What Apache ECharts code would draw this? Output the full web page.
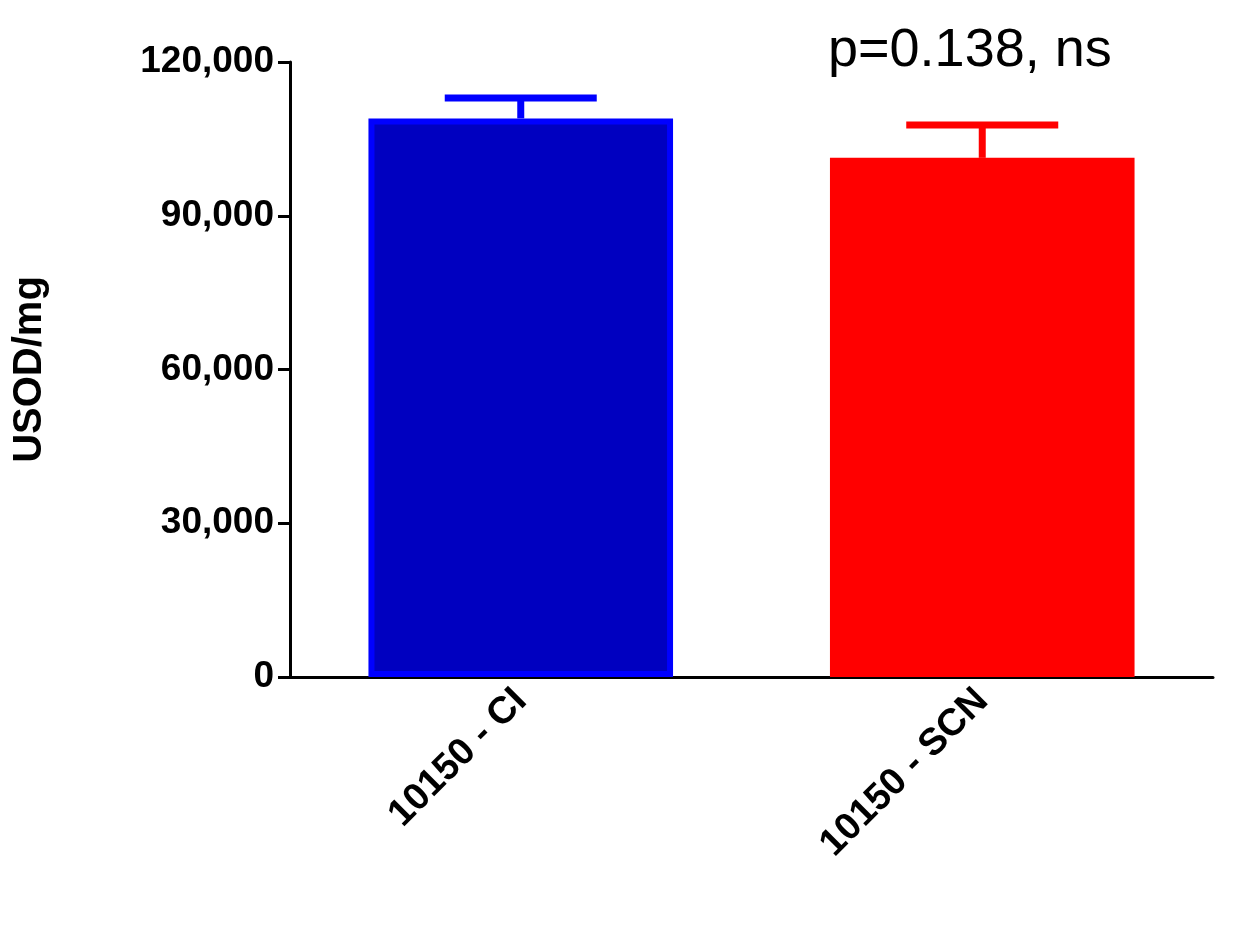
<!DOCTYPE html>
<html>
<head>
<meta charset="utf-8">
<script src="https://cdn.jsdelivr.net/npm/echarts@6/dist/echarts.min.js"></script>
<style>html,body{margin:0;background:#fff}#chart{width:1239px;height:935px}</style>
</head>
<body>
<div id="chart"></div>
<script>
var categories = ['10150 - CI', '10150 - SCN'];
var means = [109000, 101300];
var errTops = [113000, 107700];
var fills = ['#0000C0', '#FF0000'];
var borders = ['#0000FF', '#FF0000'];
var yTicks = [0, 30000, 60000, 90000, 120000];

var myChart = echarts.init(document.getElementById('chart'));
var font = 'Arial, Liberation Sans, sans-serif';
var option = {
	animation: false,
	grid: { left: 290, right: 26, top: 62, bottom: 258 },
	graphic: [{
		type: 'text', left: 828, top: 24,
		style: { text: 'p=0.138, ns', font: '54px ' + font, fill: '#000' }
	}],
	xAxis: {
		type: 'category',
		data: categories,
		axisLine: { lineStyle: { color: '#000', width: 3 } },
		axisTick: { alignWithLabel: true, length: 12, lineStyle: { width: 3 } },
		axisLabel: { rotate: 45, color: '#000', fontWeight: 'bold', fontSize: 38, fontFamily: font, margin: 18 }
	},
	yAxis: {
		type: 'value', min: 0, max: 120000, interval: 30000,
		name: 'USOD/mg', nameLocation: 'middle', nameGap: 240, nameRotate: 90,
		nameTextStyle: { color: '#000', fontWeight: 'bold', fontSize: 40, fontFamily: font },
		splitLine: { show: false },
		axisLine: { show: true, lineStyle: { color: '#000', width: 3 } },
		axisTick: { show: true, length: 12, lineStyle: { width: 3 } },
		axisLabel: {
			color: '#000', fontWeight: 'bold', fontSize: 37, fontFamily: font, margin: 16,
			formatter: function (v) { return v.toLocaleString('en-US'); }
		}
	},
	series: [{
		type: 'bar',
		barWidth: '66%',
		data: means.map(function (v, i) {
			return { value: v, itemStyle: { color: fills[i], borderColor: borders[i], borderWidth: 6 } };
		})
	}, {
		type: 'custom',
		data: categories.map(function (c, i) { return [i, means[i], errTops[i], i]; }),
		renderItem: function (params, api) {
			var i = api.value(3);
			var base = api.coord([i, api.value(1)]);
			var top = api.coord([i, api.value(2)]);
			var half = 76;
			var col = borders[i];
			return {
				type: 'group',
				children: [
					{ type: 'line', shape: { x1: base[0], y1: base[1], x2: top[0], y2: top[1] }, style: { stroke: col, lineWidth: 7 } },
					{ type: 'line', shape: { x1: top[0] - half, y1: top[1], x2: top[0] + half, y2: top[1] }, style: { stroke: col, lineWidth: 7 } }
				]
			};
		}
	}]
};
myChart.setOption(option);
</script>
</body>
</html>
